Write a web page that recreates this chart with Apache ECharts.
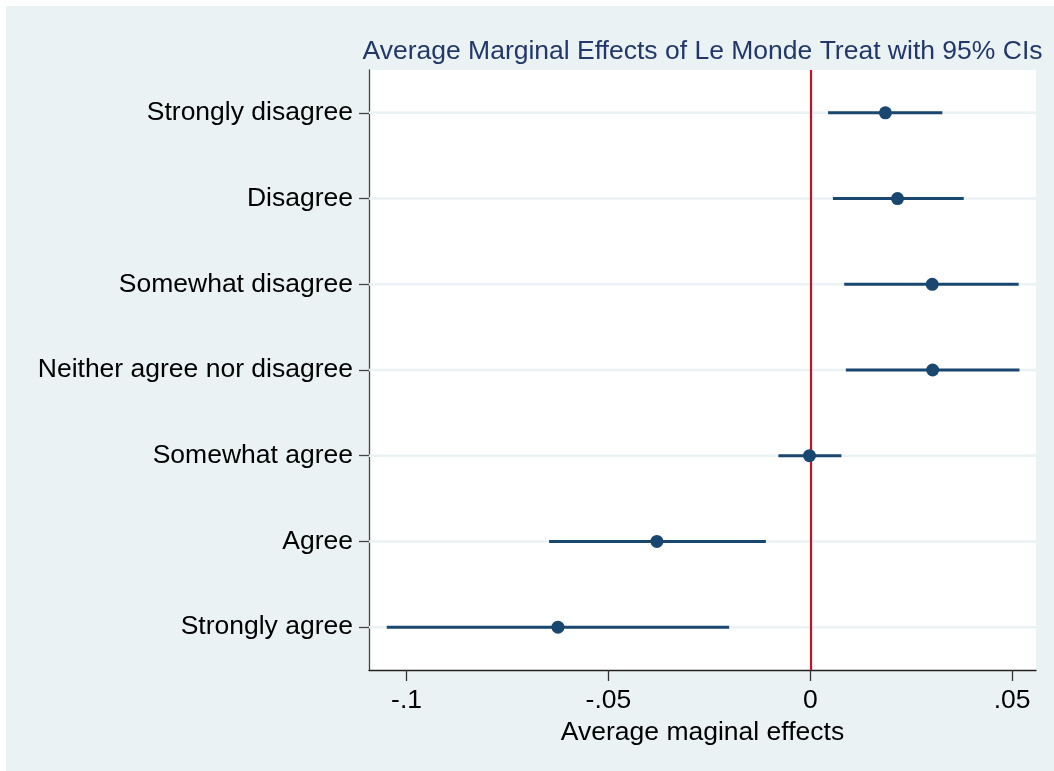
<!DOCTYPE html>
<html>
<head>
<meta charset="utf-8">
<script src="https://cdn.jsdelivr.net/npm/echarts@6/dist/echarts.min.js"></script>
<style>
  html, body { margin: 0; padding: 0; background: #ffffff; }
  #chart { position: absolute; left: 6px; top: 6px; width: 1048px; height: 765px; }
</style>
</head>
<body>
<div id="chart"></div>
<script>
const categories = ['Strongly disagree', 'Disagree', 'Somewhat disagree', 'Neither agree nor disagree', 'Somewhat agree', 'Agree', 'Strongly agree'];
const estimates = [0.0186, 0.0216, 0.0302, 0.0303, -0.0002, -0.0380, -0.0625];
const lowerCI = [0.0044, 0.0056, 0.0084, 0.0088, -0.0079, -0.0647, -0.1049];
const upperCI = [0.0327, 0.0380, 0.0516, 0.0518, 0.0077, -0.0110, -0.0201];
const xTickValues = [-0.1, -0.05, 0, 0.05];
const xTickLabels = ['-.1', '-.05', '0', '.05'];
const titleText = 'Average Marginal Effects of Le Monde Treat with 95% CIs';
const xAxisTitle = 'Average maginal effects';

const FONT = 'Liberation Sans, Arial, sans-serif';
const FS = 26.5;
const NAVY = '#1A476F';

const chart = echarts.init(document.getElementById('chart'), null, { renderer: 'canvas' });

const ciData = categories.map((c, i) => [lowerCI[i], upperCI[i], i]);
const gridData = categories.map((c, i) => [i]);
const pointData = categories.map((c, i) => [estimates[i], i]);

const option = {
  backgroundColor: '#EAF2F3',
  animation: false,
  title: {
    text: titleText,
    left: 696.5,
    top: 32,
    textAlign: 'center',
    padding: 0,
    textStyle: { color: '#23386A', fontFamily: FONT, fontSize: FS, fontWeight: 'normal' }
  },
  grid: {
    left: 363, right: 18, top: 64, bottom: 101,
    show: true, backgroundColor: '#ffffff', borderWidth: 0
  },
  xAxis: {
    type: 'value',
    min: -0.1093,
    max: 0.0559,
    name: xAxisTitle,
    nameLocation: 'middle',
    nameGap: 37,
    nameTextStyle: { color: '#000', fontFamily: FONT, fontSize: FS },
    axisLine: { show: true, onZero: false, lineStyle: { color: '#222', width: 1.3 } },
    axisTick: { show: true, length: 11, customValues: xTickValues, lineStyle: { color: '#333', width: 1.3 } },
    axisLabel: {
      show: true, margin: 17, customValues: xTickValues,
      color: '#000', fontFamily: FONT, fontSize: FS,
      formatter: function (v) {
        for (let k = 0; k < xTickValues.length; k++) {
          if (Math.abs(v - xTickValues[k]) < 1e-9) return xTickLabels[k];
        }
        return '';
      }
    },
    splitLine: { show: false }
  },
  yAxis: {
    type: 'category',
    data: categories,
    inverse: true,
    boundaryGap: true,
    axisLine: { show: true, onZero: false, lineStyle: { color: '#444', width: 1.3 } },
    axisTick: { show: true, length: 10, alignWithLabel: true, lineStyle: { color: '#444', width: 1.3 } },
    axisLabel: { margin: 16, color: '#000', fontFamily: FONT, fontSize: FS, padding: [5, 0, 0, 0] },
    splitLine: { show: false }
  },
  series: [
    {
      type: 'custom',
      name: 'grid',
      z: 1,
      silent: true,
      data: gridData,
      encode: { y: 0 },
      renderItem: function (params, api) {
        const yc = api.coord([0, api.value(0)])[1];
        const cs = params.coordSys;
        return {
          type: 'line',
          shape: { x1: cs.x, y1: yc, x2: cs.x + cs.width, y2: yc },
          style: { stroke: '#EAF2F3', lineWidth: 2.5 }
        };
      }
    },
    {
      type: 'custom',
      name: 'CI',
      z: 2,
      data: ciData,
      encode: { x: [0, 1], y: 2 },
      renderItem: function (params, api) {
        const p1 = api.coord([api.value(0), api.value(2)]);
        const p2 = api.coord([api.value(1), api.value(2)]);
        return {
          type: 'line',
          shape: { x1: p1[0], y1: p1[1], x2: p2[0], y2: p2[1] },
          style: { stroke: NAVY, lineWidth: 3 }
        };
      }
    },
    {
      type: 'scatter',
      name: 'Estimate',
      z: 4,
      data: pointData,
      symbol: 'circle',
      symbolSize: 13,
      itemStyle: { color: NAVY, opacity: 1 },
      markLine: {
        silent: true,
        symbol: 'none',
        z: 3,
        label: { show: false },
        lineStyle: { color: '#C8102E', width: 2.2, type: 'solid' },
        data: [{ xAxis: 0 }]
      }
    }
  ]
};

chart.setOption(option);
</script>
</body>
</html>
